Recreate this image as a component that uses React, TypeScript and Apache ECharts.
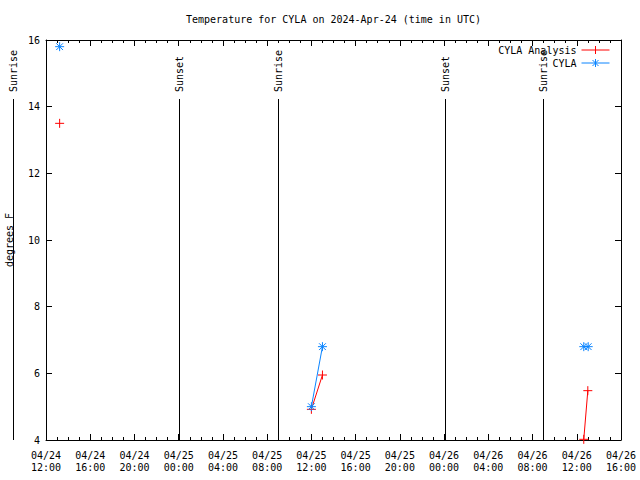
import React, { useEffect, useRef } from "react";
import * as echarts from "echarts";

const FONT = '"DejaVu Sans Mono", monospace';

const titleText = "Temperature for CYLA on 2024-Apr-24 (time in UTC)";
const yAxisName = "degrees F";

const xStart = "2024-04-24 12:00";
const xEnd = "2024-04-26 16:00";
const yMin = 4;
const yMax = 16;
const yStep = 2;

const analysisName = "CYLA Analysis";
const analysisTimes = ["2024-04-24 13:14", "2024-04-25 12:00", "2024-04-25 13:00", "2024-04-26 12:38", "2024-04-26 13:00"];
const analysisValues = [13.5, 4.92, 5.95, 4.02, 5.48];

const obsName = "CYLA";
const obsTimes = ["2024-04-24 13:14", "2024-04-25 12:00", "2024-04-25 13:00", "2024-04-26 12:38", "2024-04-26 13:02"];
const obsValues = [15.8, 5.0, 6.8, 6.8, 6.8];

const eventLabels = ["Sunrise", "Sunset", "Sunrise", "Sunset", "Sunrise"];
const eventTimes = ["2024-04-24 09:01", "2024-04-25 00:02", "2024-04-25 08:59", "2024-04-26 00:03", "2024-04-26 08:56"];

const HOUR = 3600 * 1000;

function parseUTC(s: string): number {
  const [d, t] = s.split(" ");
  const [Y, M, D] = d.split("-").map(Number);
  const [h, m] = t.split(":").map(Number);
  return Date.UTC(Y, M - 1, D, h, m);
}

function buildData(times: string[], values: number[]) {
  const out: any[] = [];
  for (let i = 0; i < times.length; i++) {
    const t = parseUTC(times[i]);
    if (i > 0 && t - parseUTC(times[i - 1]) > 3 * HOUR) {
      out.push([t - HOUR, "-"]);
    }
    out.push([t, values[i]]);
  }
  return out;
}

const pad = (n: number) => (n < 10 ? "0" + n : "" + n);
function fmt(v: number) {
  const d = new Date(v);
  return `${pad(d.getUTCMonth() + 1)}/${pad(d.getUTCDate())}\n${pad(d.getUTCHours())}:${pad(d.getUTCMinutes())}`;
}

const PLUS = "path://M0,4L8,4M4,0L4,8";
const STAR = "path://M0,4L8,4M4,0L4,8M1,1L7,7M1,7L7,1";
const LEGEND_PLUS = "path://M0,4.5L28,4.5M14,0.5L14,8.5";
const LEGEND_STAR = "path://M0,4.5L28,4.5M14,0.5L14,8.5M11,1.5L17,7.5M11,7.5L17,1.5";

const RED = "#ff0000";
const BLUE = "#0a84ff";

export default function App() {
  const ref = useRef<HTMLDivElement>(null);
  useEffect(() => {
    const chart = echarts.init(ref.current!, undefined, { renderer: "svg" });
    const xMin = parseUTC(xStart);
    const xMax = parseUTC(xEnd);
    const axisLineStyle = { color: "#000", width: 1 };
    const xCommon = {
      type: "value" as const,
      min: xMin,
      max: xMax,
      interval: 4 * HOUR,
      splitLine: { show: false },
      axisLine: { show: true, lineStyle: axisLineStyle, onZero: false },
      axisTick: { show: true, inside: true, length: 6, lineStyle: axisLineStyle },
      minorTick: { show: true, splitNumber: 4, length: 3, lineStyle: axisLineStyle },
      minorSplitLine: { show: false },
    };
    const yCommon = {
      type: "value" as const,
      min: yMin,
      max: yMax,
      interval: yStep,
      splitLine: { show: false },
      axisLine: { show: true, lineStyle: axisLineStyle, onZero: false },
      axisTick: { show: true, inside: true, length: 6, lineStyle: axisLineStyle },
    };
    const legendCommon = {
      right: 30,
      padding: 0,
      align: "right" as const,
      itemWidth: 28,
      itemHeight: 9,
      textStyle: { fontFamily: FONT, fontSize: 10, color: "#000" },
    };
    chart.setOption({
      animation: false,
      backgroundColor: "#fff",
      title: {
        text: titleText,
        left: 186,
        top: 14,
        padding: 0,
        textStyle: { fontFamily: FONT, fontSize: 10, fontWeight: "normal", color: "#000" },
      },
      legend: [
        {
          ...legendCommon,
          top: 45,
          data: [
            {
              name: analysisName,
              icon: LEGEND_PLUS,
              itemStyle: { color: "rgba(0,0,0,0)", borderColor: RED, borderWidth: 1 },
            },
          ],
        },
        {
          ...legendCommon,
          top: 58,
          data: [
            {
              name: obsName,
              icon: LEGEND_STAR,
              itemStyle: { color: "rgba(0,0,0,0)", borderColor: BLUE, borderWidth: 1 },
            },
          ],
        },
      ],
      grid: { left: 46, top: 40, right: 19, bottom: 40, containLabel: false, outerBoundsMode: "none" },
      xAxis: [
        {
          ...xCommon,
          position: "bottom",
          axisLabel: {
            show: true,
            formatter: fmt,
            fontFamily: FONT,
            fontSize: 10,
            color: "#000",
            lineHeight: 12,
            margin: 9,
            showMinLabel: true,
            showMaxLabel: true,
          },
        },
        { ...xCommon, position: "top", axisLabel: { show: false } },
      ],
      yAxis: [
        {
          ...yCommon,
          position: "left",
          name: yAxisName,
          nameLocation: "middle",
          nameRotate: 90,
          nameGap: 32,
          nameTextStyle: { fontFamily: FONT, fontSize: 10, color: "#000" },
          axisLabel: { fontFamily: FONT, fontSize: 10, color: "#000", margin: 6 },
        },
        { ...yCommon, position: "right", axisLabel: { show: false } },
      ],
      series: [
        {
          name: analysisName,
          type: "line",
          xAxisIndex: 0,
          yAxisIndex: 0,
          data: buildData(analysisTimes, analysisValues),
          symbol: PLUS,
          symbolSize: 9,
          showAllSymbol: true,
          connectNulls: false,
          lineStyle: { color: RED, width: 1 },
          itemStyle: { color: "rgba(0,0,0,0)", borderColor: RED, borderWidth: 1 },
        },
        {
          name: obsName,
          type: "line",
          xAxisIndex: 0,
          yAxisIndex: 0,
          data: buildData(obsTimes, obsValues),
          symbol: STAR,
          symbolSize: 9,
          showAllSymbol: true,
          connectNulls: false,
          lineStyle: { color: BLUE, width: 1 },
          itemStyle: { color: "rgba(0,0,0,0)", borderColor: BLUE, borderWidth: 1 },
        },
      ],
    });

    const yBottom = chart.convertToPixel({ yAxisIndex: 0 }, yMin) as number;
    const yTop = chart.convertToPixel({ yAxisIndex: 0 }, yMax) as number;
    const lineTop = yBottom - (yBottom - yTop) * 0.8525;
    const graphics: any[] = [];
    eventTimes.forEach((t, i) => {
      const x = Math.round(chart.convertToPixel({ xAxisIndex: 0 }, parseUTC(t)) as number) + 0.5;
      graphics.push({
        type: "line",
        shape: { x1: x, y1: yBottom, x2: x, y2: lineTop },
        style: { stroke: "#000", lineWidth: 1 },
        z: 1,
      });
      graphics.push({
        type: "text",
        x: x,
        y: lineTop - 7,
        rotation: Math.PI / 2,
        style: {
          text: eventLabels[i],
          font: `10px ${FONT}`,
          fill: "#000",
          align: "left",
          verticalAlign: "middle",
        },
        z: 1,
      });
    });
    chart.setOption({ graphic: graphics });

    return () => chart.dispose();
  }, []);
  return <div ref={ref} style={{ position: "fixed", left: 0, top: 0, width: 640, height: 480 }} />;
}
